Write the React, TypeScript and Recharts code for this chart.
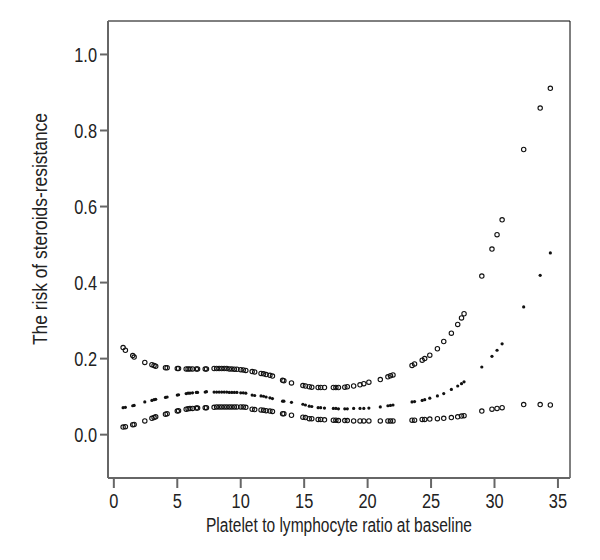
import { ScatterChart, Scatter, XAxis, YAxis, ReferenceArea } from 'recharts';

// PLR values at baseline (x) and the fitted risk with its 95% band
const plr = [
  0.73, 0.91, 1.49, 1.6, 2.44, 3.0, 3.17, 3.3, 4.07, 4.2, 5.0, 5.1, 5.7, 5.85, 6.0, 6.2, 6.5, 6.6,
  7.2, 7.3, 7.9, 8.1, 8.3, 8.5, 8.7, 8.9, 9.1, 9.3, 9.5, 9.7, 10.0, 10.2, 10.4, 10.9, 11.1, 11.6,
  11.8, 12.0, 12.3, 12.5, 13.3, 13.4, 14.0, 14.9, 15.1, 15.4, 15.6, 16.1, 16.3, 16.6, 17.3, 17.5,
  17.7, 18.2, 18.4, 18.9, 19.4, 19.7, 20.1, 21.0, 21.6, 21.8, 22.0, 23.5, 23.7, 24.3, 24.5, 24.9,
  25.5, 26.0, 26.6, 27.1, 27.4, 27.6, 29.0, 29.8, 30.2, 30.6, 32.3, 33.6, 34.4,
];
const upperCI = [
  0.229, 0.222, 0.208, 0.204, 0.19, 0.184, 0.182, 0.18, 0.176, 0.176, 0.174, 0.174, 0.173, 0.173,
  0.173, 0.173, 0.173, 0.173, 0.173, 0.173, 0.174, 0.174, 0.174, 0.174, 0.174, 0.174, 0.173, 0.173,
  0.172, 0.172, 0.171, 0.17, 0.169, 0.166, 0.165, 0.161, 0.16, 0.158, 0.156, 0.154, 0.143, 0.142,
  0.136, 0.129, 0.128, 0.126, 0.125, 0.124, 0.124, 0.124, 0.124, 0.124, 0.124, 0.125, 0.126, 0.128,
  0.131, 0.134, 0.138, 0.145, 0.152, 0.155, 0.157, 0.182, 0.186, 0.196, 0.2, 0.209, 0.226, 0.245,
  0.267, 0.29, 0.307, 0.318, 0.417, 0.488, 0.526, 0.565, 0.75, 0.859, 0.911,
];
const risk = [
  0.071, 0.072, 0.076, 0.077, 0.086, 0.09, 0.092, 0.093, 0.098, 0.099, 0.104, 0.105, 0.108, 0.109,
  0.109, 0.11, 0.111, 0.111, 0.112, 0.113, 0.112, 0.112, 0.112, 0.112, 0.112, 0.112, 0.111, 0.111,
  0.111, 0.111, 0.11, 0.11, 0.109, 0.104, 0.103, 0.102, 0.101, 0.099, 0.097, 0.095, 0.088, 0.088,
  0.085, 0.08, 0.078, 0.075, 0.074, 0.071, 0.071, 0.07, 0.069, 0.069, 0.068, 0.068, 0.068, 0.069,
  0.069, 0.069, 0.07, 0.073, 0.076, 0.077, 0.078, 0.086, 0.087, 0.09, 0.092, 0.096, 0.102, 0.108,
  0.119, 0.128, 0.134, 0.139, 0.178, 0.206, 0.222, 0.239, 0.336, 0.419, 0.478,
];
const lowerCI = [
  0.02, 0.021, 0.026, 0.027, 0.036, 0.043, 0.045, 0.047, 0.054, 0.055, 0.062, 0.063, 0.067, 0.068,
  0.069, 0.069, 0.07, 0.07, 0.071, 0.071, 0.072, 0.073, 0.073, 0.073, 0.073, 0.073, 0.073, 0.073,
  0.073, 0.073, 0.073, 0.073, 0.072, 0.067, 0.066, 0.065, 0.064, 0.063, 0.062, 0.061, 0.055, 0.055,
  0.051, 0.046, 0.045, 0.042, 0.042, 0.04, 0.04, 0.039, 0.038, 0.038, 0.037, 0.037, 0.037, 0.036,
  0.036, 0.036, 0.036, 0.036, 0.036, 0.036, 0.036, 0.038, 0.038, 0.04, 0.04, 0.041, 0.042, 0.043,
  0.045, 0.047, 0.049, 0.05, 0.062, 0.067, 0.069, 0.071, 0.079, 0.079, 0.078,
];
const xTicks = [0, 5, 10, 15, 20, 25, 30, 35];
const yTicks = [0, 0.2, 0.4, 0.6, 0.8, 1.0];

const xDomain: [number, number] = [-0.46, 35.95];
const yDomain: [number, number] = [-0.114, 1.088];

// no condensed font available, so squeeze Liberation Sans horizontally
const FONT = '"Liberation Sans", Arial, sans-serif';
const SQUEEZE = 0.78;
const AXIS = '#666';

const toPoints = (ys: number[]) => plr.map((x, i) => ({ x, y: ys[i] }));

const OpenDot = (props: any) => (
  <circle cx={props.cx} cy={props.cy} r={2.2} fill="none" stroke="#111" strokeWidth={1.1} />
);
const SolidDot = (props: any) => <circle cx={props.cx} cy={props.cy} r={1.6} fill="#111" />;

const XTick = (props: any) => (
  <text
    transform={`translate(${props.x} ${props.y}) scale(${SQUEEZE} 1)`}
    dy="0.72em"
    textAnchor="middle"
    fontSize={21}
    fontFamily={FONT}
    fill="#222"
  >
    {props.payload.value}
  </text>
);

const YTick = (props: any) => (
  <text
    transform={`translate(${props.x} ${props.y}) scale(${SQUEEZE} 1)`}
    dy="0.36em"
    textAnchor="end"
    fontSize={21}
    fontFamily={FONT}
    fill="#222"
  >
    {Number(props.payload.value).toFixed(1)}
  </text>
);

export default function App() {
  return (
    <div style={{ position: 'relative', width: 592, height: 552 }}>
      <ScatterChart width={592} height={552} margin={{ top: 13, right: 30, bottom: 22, left: 0 }}>
        <XAxis
          type="number"
          dataKey="x"
          domain={xDomain}
          ticks={xTicks}
          allowDataOverflow
          height={60}
          stroke={AXIS}
          strokeWidth={2}
          tickSize={10}
          tickMargin={5}
          tick={XTick}
        />
        <YAxis
          type="number"
          dataKey="y"
          domain={yDomain}
          ticks={yTicks}
          allowDataOverflow
          width={100}
          stroke={AXIS}
          strokeWidth={2}
          tickSize={8}
          tickMargin={3}
          tick={YTick}
        />
        <ReferenceArea
          x1={xDomain[0]}
          x2={xDomain[1]}
          y1={yDomain[0]}
          y2={yDomain[1]}
          fill="none"
          stroke="#000"
          strokeWidth={1}
        />
        <Scatter data={toPoints(upperCI)} shape={OpenDot} isAnimationActive={false} />
        <Scatter data={toPoints(risk)} shape={SolidDot} isAnimationActive={false} />
        <Scatter data={toPoints(lowerCI)} shape={OpenDot} isAnimationActive={false} />
      </ScatterChart>
      <svg
        width={592}
        height={552}
        style={{ position: 'absolute', left: 0, top: 0, pointerEvents: 'none' }}
      >
        <text
          x={331}
          y={524}
          textAnchor="middle"
          fontSize={20}
          fontFamily={FONT}
          fill="#222"
          textLength={266}
          lengthAdjust="spacingAndGlyphs"
        >
          Platelet to lymphocyte ratio at baseline
        </text>
        <text
          x={0}
          y={0}
          transform="translate(39 221) rotate(-90)"
          textAnchor="middle"
          fontSize={20}
          fontFamily={FONT}
          fill="#222"
          textLength={232}
          lengthAdjust="spacingAndGlyphs"
        >
          The risk of steroids-resistance
        </text>
      </svg>
    </div>
  );
}
